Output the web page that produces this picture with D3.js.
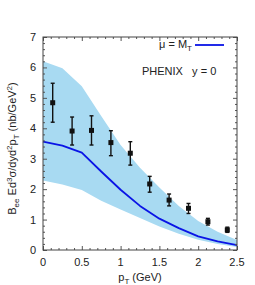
<!DOCTYPE html>
<html>
<head>
<meta charset="utf-8">
<script src="https://cdn.jsdelivr.net/npm/d3@7"></script>
<style>
  body { margin: 0; background: #fff; }
  text { font-family: "Liberation Sans", Arial, sans-serif; }
</style>
</head>
<body>
<div id="chart"></div>
<script>
// theory curve (mu = M_T) and its uncertainty band
const curveX = [0, 0.25, 0.5, 0.75, 1.0, 1.25, 1.5, 1.75, 2.0, 2.25, 2.5];
const curveY = [3.56, 3.43, 3.2, 2.58, 1.98, 1.45, 1.03, 0.72, 0.45, 0.28, 0.16];
const bandHi = [6.2, 5.97, 5.38, 4.4, 3.45, 2.7, 2.05, 1.45, 0.95, 0.6, 0.33];
const bandLo = [2.28, 2.15, 1.97, 1.62, 1.33, 1.05, 0.77, 0.53, 0.34, 0.2, 0.1];

// PHENIX data points
const ptX = [0.125, 0.375, 0.625, 0.875, 1.125, 1.375, 1.625, 1.875, 2.125, 2.375];
const ptY = [4.84, 3.91, 3.93, 3.53, 3.18, 2.17, 1.64, 1.37, 0.93, 0.66];
const ptHi = [5.48, 4.37, 4.41, 3.92, 3.56, 2.42, 1.84, 1.53, 1.04, 0.75];
const ptLo = [4.2, 3.45, 3.45, 3.1, 2.79, 1.9, 1.45, 1.2, 0.82, 0.58];

const xTicks = [0, 0.5, 1, 1.5, 2, 2.5];
const yTicks = [0, 1, 2, 3, 4, 5, 6, 7];

const margin = {top: 37, right: 18, bottom: 35, left: 43};
const width = 255, height = 285;
const visWidth = width - margin.left - margin.right;
const visHeight = height - margin.top - margin.bottom;

const x = d3.scaleLinear().domain([0, 2.5]).range([0, visWidth]);
const y = d3.scaleLinear().domain([0, 7]).range([visHeight, 0]);

const svg = d3.select('#chart').append('svg')
    .attr('width', width)
    .attr('height', height);

const g = svg.append('g')
    .attr('transform', `translate(${margin.left}, ${margin.top})`);

// band
const band = curveX.map((d, i) => ({x: d, lo: bandLo[i], hi: bandHi[i]}));
g.append('path')
    .datum(band)
    .attr('d', d3.area().x(d => x(d.x)).y0(d => y(d.lo)).y1(d => y(d.hi)))
    .attr('fill', '#a8daf2');

// curve
const curve = curveX.map((d, i) => ({x: d, y: curveY[i]}));
g.append('path')
    .datum(curve)
    .attr('d', d3.line().x(d => x(d.x)).y(d => y(d.y)))
    .attr('fill', 'none')
    .attr('stroke', '#0a14e6')
    .attr('stroke-width', 1.8)
    .attr('stroke-linejoin', 'round');

// error bars and markers
const pts = ptX.map((d, i) => ({x: d, y: ptY[i], lo: ptLo[i], hi: ptHi[i]}));
const pg = g.append('g').attr('stroke', '#111').attr('stroke-width', 1.4);
pg.selectAll('.err').data(pts).join('line')
    .attr('x1', d => x(d.x)).attr('x2', d => x(d.x))
    .attr('y1', d => y(d.lo)).attr('y2', d => y(d.hi));
pg.selectAll('.capHi').data(pts).join('line')
    .attr('x1', d => x(d.x) - 2).attr('x2', d => x(d.x) + 2)
    .attr('y1', d => y(d.hi)).attr('y2', d => y(d.hi));
pg.selectAll('.capLo').data(pts).join('line')
    .attr('x1', d => x(d.x) - 2).attr('x2', d => x(d.x) + 2)
    .attr('y1', d => y(d.lo)).attr('y2', d => y(d.lo));
g.append('g').selectAll('rect').data(pts).join('rect')
    .attr('x', d => x(d.x) - 2.5).attr('y', d => y(d.y) - 2.5)
    .attr('width', 5).attr('height', 5)
    .attr('fill', '#111');

// axes with inward ticks on all four sides
const xMinor = d3.range(0, 2.501, 0.1);
const yMinor = d3.range(0, 7.001, 0.2);
const axes = [
  [d3.axisBottom(x), `translate(0,${visHeight})`, -1],
  [d3.axisTop(x), 'translate(0,0)', 1],
  [d3.axisLeft(y), 'translate(0,0)', 1],
  [d3.axisRight(y), `translate(${visWidth},0)`, -1]
];
axes.forEach(([ax, tr, dir], k) => {
  const isX = k < 2;
  const major = isX ? xTicks : yTicks;
  const minor = isX ? xMinor : yMinor;
  const sel = g.append('g').attr('transform', tr);
  sel.call(ax.tickValues(minor).tickFormat('').tickSize(0).tickSizeOuter(0));
  sel.select('.domain').remove();
  sel.selectAll('.tick line')
      .attr('stroke', '#555')
      .attr(isX ? 'y2' : 'x2', d => {
        const isMajor = major.some(m => Math.abs(m - d) < 1e-6);
        return dir * (isMajor ? 4 : 2);
      });
});

// frame
g.append('rect')
    .attr('width', visWidth).attr('height', visHeight)
    .attr('fill', 'none').attr('stroke', '#444').attr('stroke-width', 1);

// tick labels
g.append('g').selectAll('text').data(xTicks).join('text')
    .attr('x', d => x(d)).attr('y', visHeight + 16)
    .attr('text-anchor', 'middle').attr('font-size', '11px').attr('fill', '#222')
    .text(d => d);
g.append('g').selectAll('text').data(yTicks).join('text')
    .attr('x', -7).attr('y', d => y(d) + 4)
    .attr('text-anchor', 'end').attr('font-size', '11px').attr('fill', '#222')
    .text(d => d);

// axis titles
const xt = svg.append('text')
    .attr('x', margin.left + visWidth / 2).attr('y', 281)
    .attr('text-anchor', 'middle').attr('font-size', '11px').attr('fill', '#222');
xt.append('tspan').text('p');
xt.append('tspan').attr('dy', 3).attr('font-size', '8px').text('T');
xt.append('tspan').attr('dy', -3).text(' (GeV)');

const yt = svg.append('text')
    .attr('transform', `translate(16, ${margin.top + visHeight / 2 + 5}) rotate(-90)`)
    .attr('text-anchor', 'middle').attr('font-size', '11px').attr('fill', '#222');
yt.append('tspan').text('B');
yt.append('tspan').attr('dy', 3).attr('font-size', '8px').text('ee');
yt.append('tspan').attr('dy', -3).text(' Ed');
yt.append('tspan').attr('dy', -4).attr('font-size', '8px').text('3');
yt.append('tspan').attr('dy', 4).text('σ/dyd');
yt.append('tspan').attr('dy', -4).attr('font-size', '8px').text('2');
yt.append('tspan').attr('dy', 4).text('p');
yt.append('tspan').attr('dy', 3).attr('font-size', '8px').text('T');
yt.append('tspan').attr('dy', -3).text(' (nb/GeV');
yt.append('tspan').attr('dy', -4).attr('font-size', '8px').text('2');
yt.append('tspan').attr('dy', 4).text(')');

// legend
const lt = g.append('text')
    .attr('x', 149).attr('y', 11)
    .attr('text-anchor', 'end').attr('font-size', '11px').attr('fill', '#222');
lt.append('tspan').text('μ = M');
lt.append('tspan').attr('dy', 3).attr('font-size', '8px').text('T');
g.append('line')
    .attr('x1', 152).attr('x2', 181).attr('y1', 8).attr('y2', 8)
    .attr('stroke', '#0a14e6').attr('stroke-width', 1.8);

g.append('text')
    .attr('x', 99).attr('y', 38)
    .attr('font-size', '11px').attr('fill', '#222')
    .attr('xml:space', 'preserve')
    .text('PHENIX   y = 0');
</script>
</body>
</html>
